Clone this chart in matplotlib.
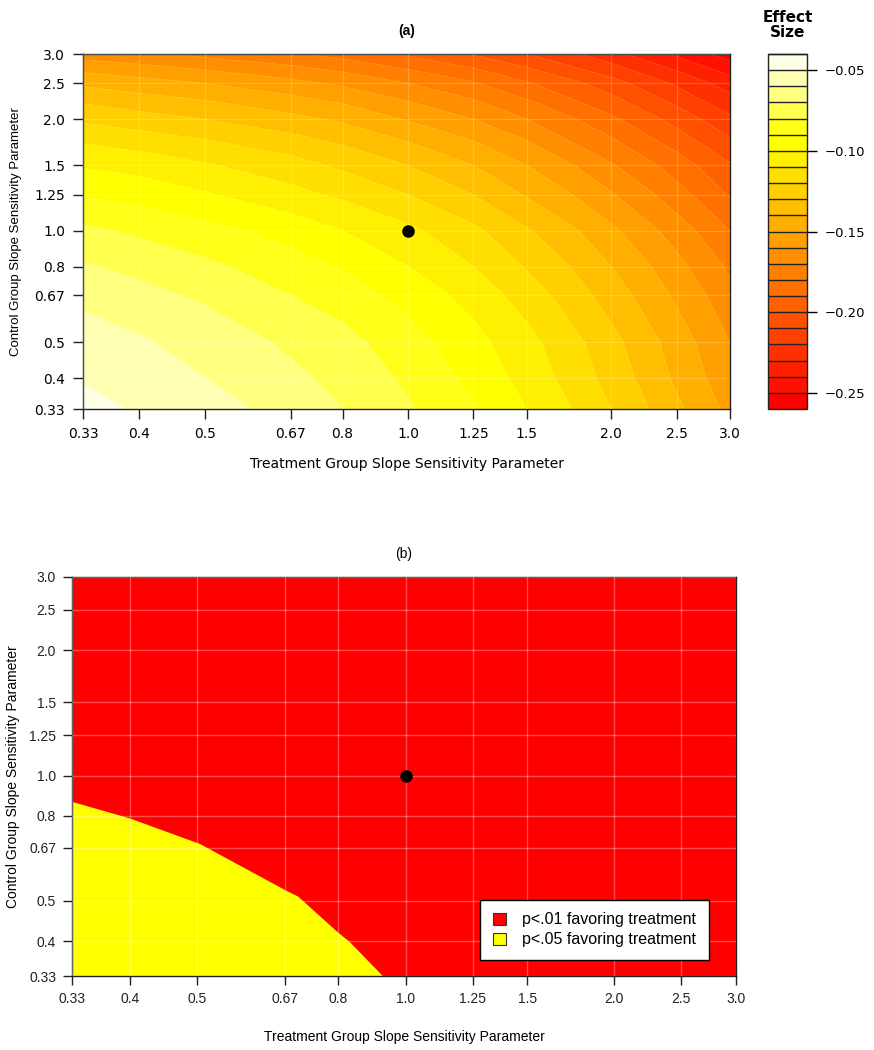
import numpy as np
import matplotlib
matplotlib.use("Agg")
import matplotlib.pyplot as plt
from matplotlib.colors import hsv_to_rgb
from matplotlib.patches import Patch
from matplotlib.ticker import NullLocator

plt.rcParams["font.family"] = ["Liberation Sans", "DejaVu Sans"]

# grid of sensitivity parameters (same for both axes)
x_vals = [0.33, 0.4, 0.5, 0.67, 0.8, 1.0, 1.25, 1.5, 2.0, 2.5, 3.0]
y_vals = [0.33, 0.4, 0.5, 0.67, 0.8, 1.0, 1.25, 1.5, 2.0, 2.5, 3.0]
tick_labels = ["0.33", "0.4", "0.5", "0.67", "0.8", "1.0", "1.25", "1.5", "2.0", "2.5", "3.0"]

# effect size, rows = control parameter (y), columns = treatment parameter (x)
effect = [
    [-0.047, -0.051, -0.056, -0.064, -0.070, -0.079, -0.089, -0.100, -0.120, -0.138, -0.153],
    [-0.051, -0.055, -0.060, -0.068, -0.073, -0.082, -0.093, -0.104, -0.124, -0.142, -0.157],
    [-0.055, -0.059, -0.064, -0.072, -0.077, -0.086, -0.097, -0.107, -0.127, -0.145, -0.160],
    [-0.063, -0.067, -0.072, -0.080, -0.085, -0.094, -0.104, -0.115, -0.135, -0.152, -0.167],
    [-0.069, -0.073, -0.078, -0.086, -0.091, -0.100, -0.110, -0.121, -0.140, -0.157, -0.172],
    [-0.078, -0.082, -0.087, -0.094, -0.100, -0.108, -0.118, -0.129, -0.148, -0.165, -0.180],
    [-0.091, -0.094, -0.099, -0.107, -0.112, -0.120, -0.130, -0.141, -0.159, -0.176, -0.191],
    [-0.101, -0.104, -0.109, -0.116, -0.122, -0.130, -0.140, -0.150, -0.169, -0.185, -0.199],
    [-0.122, -0.126, -0.130, -0.137, -0.142, -0.151, -0.160, -0.170, -0.188, -0.204, -0.218],
    [-0.142, -0.146, -0.150, -0.157, -0.162, -0.170, -0.179, -0.189, -0.206, -0.222, -0.235],
    [-0.165, -0.168, -0.173, -0.179, -0.184, -0.192, -0.201, -0.210, -0.227, -0.242, -0.255],
]

levels = np.round(np.arange(-0.26, -0.035, 0.01), 2)
cbar_ticks = [-0.05, -0.10, -0.15, -0.20, -0.25]
cbar_labels = ["\u22120.05", "\u22120.10", "\u22120.15", "\u22120.20", "\u22120.25"]

# p<.05 region boundary (panel b)
bound_x = [0.33, 0.40, 0.505, 0.67, 0.70, 0.80, 0.83, 0.927]
bound_y = [0.865, 0.789, 0.685, 0.531, 0.512, 0.419, 0.399, 0.33]

ref_x = [1.0]
ref_y = [1.0]

legend_labels = ["p<.01 favoring treatment", "p<.05 favoring treatment"]


def heat_colors(n):
    # same scheme as R's heat.colors()
    j = n // 4
    i = n - j
    cols = [hsv_to_rgb((h, 1.0, 1.0)) for h in np.linspace(0, 1 / 6, i)]
    sats = np.linspace(1 - 1 / (2 * j), 1 / (2 * j), j)
    cols += [hsv_to_rgb((1 / 6, s, 1.0)) for s in sats]
    return cols


W, H = 874, 1050
fig = plt.figure(figsize=(W / 100, H / 100), dpi=100)
ax1 = fig.add_axes([83 / W, 1 - 409 / H, 647 / W, 355 / H])
cax = fig.add_axes([768 / W, 1 - 409 / H, 39 / W, 355 / H])
ax2 = fig.add_axes([72 / W, 1 - 976 / H, 664 / W, 399 / H])


def setup_axes(ax, fsize, fam):
    ax.set_xscale("log")
    ax.set_yscale("log")
    ax.set_xlim(0.33, 3.0)
    ax.set_ylim(0.33, 3.0)
    ax.set_xticks(x_vals)
    ax.set_xticklabels(tick_labels, fontsize=fsize, family=fam)
    ax.set_yticks(y_vals)
    ax.set_yticklabels(tick_labels, fontsize=fsize, family=fam)
    ax.xaxis.set_minor_locator(NullLocator())
    ax.yaxis.set_minor_locator(NullLocator())
    ax.grid(True, color="white", alpha=0.2, linewidth=0.9)
    ax.set_axisbelow(False)
    for s in ax.spines.values():
        s.set_linewidth(1.0)
        s.set_color("#222222")


# ---- panel (a) ----
heat = heat_colors(len(levels) - 1)
cf = ax1.contourf(x_vals, y_vals, effect, levels=levels, colors=heat)
ax1.contour(x_vals, y_vals, effect, levels=levels, colors="white",
            linewidths=0.5, alpha=0.18)
setup_axes(ax1, 10, ["DejaVu Sans"])
ax1.tick_params(axis="both", length=7, width=1, pad=6, colors="#222222",
                labelcolor="black")
ax1.plot(ref_x, ref_y, "o", color="black", markersize=8, zorder=5)
ax1.set_title("(a)", fontsize=10, fontweight="bold", pad=14)
ax1.set_xlabel("Treatment Group Slope Sensitivity Parameter", fontsize=10,
               family=["DejaVu Sans"])
ax1.set_ylabel("Control Group Slope Sensitivity Parameter", fontsize=9.5)
ax1.xaxis.set_label_coords(0.5, -0.135)
ax1.yaxis.set_label_coords(-0.094, 0.5)

cb = fig.colorbar(cf, cax=cax, drawedges=True, ticks=cbar_ticks)
cb.ax.set_yticklabels(cbar_labels, fontsize=9.5, family=["DejaVu Sans"])
cb.ax.tick_params(length=7, width=1, pad=6)
cb.dividers.set_color("#222222")
cb.dividers.set_linewidth(1.0)
cb.outline.set_linewidth(1.0)
cb.outline.set_edgecolor("#222222")
cax.set_title("Effect\nSize", fontsize=11, fontweight="bold",
              family=["DejaVu Sans"], pad=12, linespacing=1.0)

# ---- panel (b) ----
ax2.set_facecolor("#ff0000")
ax2.fill(bound_x + [0.33], bound_y + [0.33], color="#ffff00", linewidth=0,
         zorder=1)
setup_axes(ax2, 10, ["Liberation Sans"])
ax2.grid(True, color="white", alpha=0.3, linewidth=1.0)
ax2.tick_params(axis="both", length=6.5, width=1, pad=5, colors="#222222",
                labelcolor="#222222")
ax2.plot(ref_x, ref_y, "o", color="black", markersize=8, zorder=5)
ax2.set_title("(b)", fontsize=10, pad=14)
ax2.set_xlabel("Treatment Group Slope Sensitivity Parameter", fontsize=10)
ax2.set_ylabel("Control Group Slope Sensitivity Parameter", fontsize=10)
ax2.xaxis.set_label_coords(0.5, -0.135)
ax2.yaxis.set_label_coords(-0.078, 0.5)

handles = [Patch(facecolor="#ff0000", edgecolor="#333333", linewidth=0.8),
           Patch(facecolor="#ffff00", edgecolor="#333333", linewidth=0.8)]
leg = ax2.legend(handles, legend_labels, loc="lower right",
                 bbox_to_anchor=(0.959, 0.04), borderaxespad=0,
                 fontsize=11.5, frameon=True, fancybox=False,
                 handlelength=0.8, handleheight=0.8, handletextpad=1.0,
                 labelspacing=0.3, borderpad=0.8)
leg.get_frame().set_edgecolor("black")
leg.get_frame().set_linewidth(1.0)
leg.get_frame().set_alpha(1.0)

fig.savefig("out.png", dpi=100)
